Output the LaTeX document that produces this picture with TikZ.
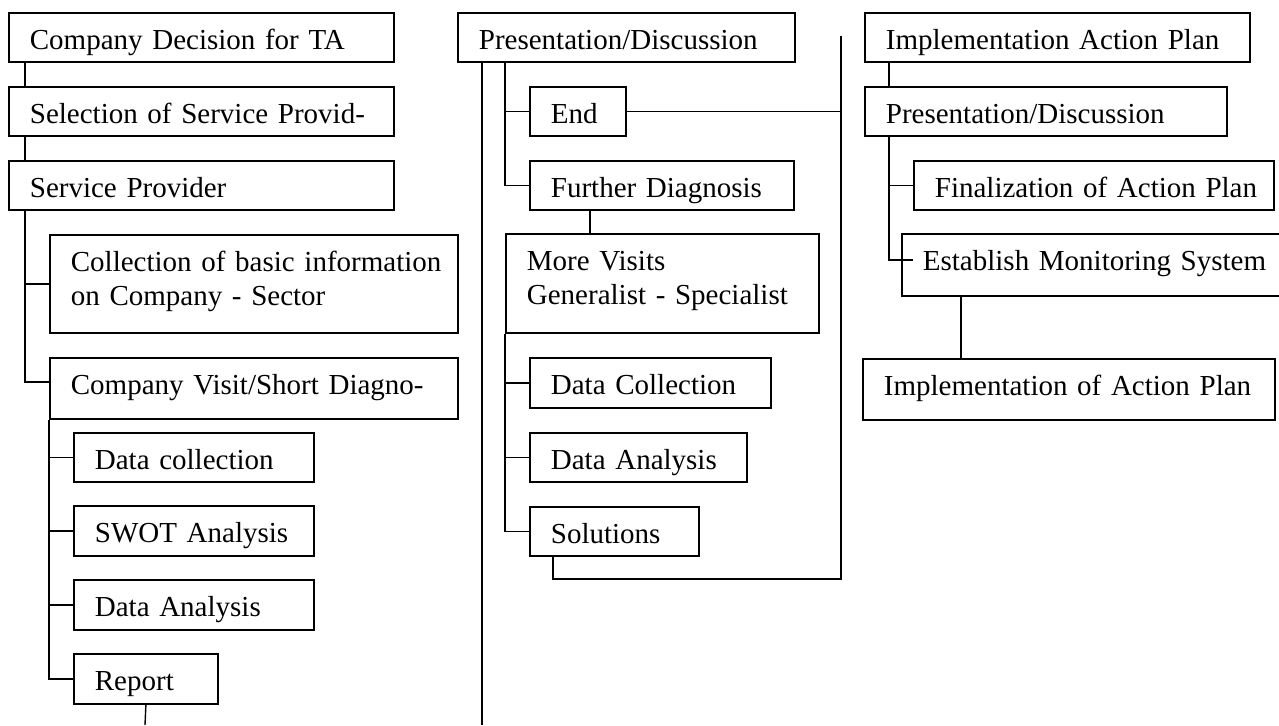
\documentclass[tikz,border=0pt]{standalone}
\usepackage{fontspec}
\setmainfont{Liberation Serif}

\tikzset{
  box/.style={draw, line width=0.9pt, anchor=north west, inner sep=0pt,
    align=left, text height=18.5pt, text depth=6pt,
    font=\fontsize{14.5pt}{17pt}\selectfont,
    execute at begin node={\leftskip=10.5pt}},
  link/.style={line width=0.7pt}
}

\begin{document}
\begin{tikzpicture}[x=0.5pt, y=-0.5pt]
    \useasboundingbox (0,0) rectangle (1279,725);
    % first column
    \node[box, text width=192.5pt] (cdec) at (8,12) {Company Decision for TA};
    \node[box, text width=192.5pt] (selsp) at (8,86) {Selection of Service Provid-};
    \node[box, text width=192.5pt] (sprov) at (8,160) {Service Provider};
    \node[box, text width=204pt, text depth=30.5pt] (basic) at (49,234) {Collection of basic information\\on Company - Sector};
    \node[box, text width=204pt, text depth=12pt] (visit) at (49,357) {Company Visit/Short Diagno-};
    \node[box, text width=120pt] (dcoll) at (73,432) {Data collection};
    \node[box, text width=120pt, text depth=6.5pt] (swot) at (73,505) {SWOT Analysis};
    \node[box, text width=120pt, text depth=6.5pt] (danal) at (73,579) {Data Analysis};
    \node[box, text width=72pt, text depth=6.5pt] (report) at (73,653) {Report};
    \coordinate (rpend) at (145,725);

    \draw[link] ([xshift=8.5pt]cdec.south west) -- ([xshift=8.5pt]selsp.north west);
    \draw[link] ([xshift=8.5pt]selsp.south west) -- ([xshift=8.5pt]sprov.north west);
    \draw[link] ([xshift=8.5pt]sprov.south west) |- (basic.west);
    \draw[link] ([xshift=8.5pt]sprov.south west) |- ([yshift=-12.5pt]visit.north west);
    \foreach \n in {dcoll,swot,danal,report}
      \draw[link] (visit.south west) |- (\n.west);
    \draw[link] (report.south) -- (rpend);

    % second column
    \node[box, text width=168.5pt] (pres) at (457,12) {Presentation/Discussion};
    \node[box, text width=48pt] (end) at (529,86) {End};
    \node[box, text width=132pt] (further) at (529,160) {Further Diagnosis};
    \node[box, text width=156.5pt, text depth=31pt] (more) at (505,233) {More Visits\\Generalist - Specialist};
    \node[box, text width=120.5pt, text depth=6.5pt] (dcollb) at (529,357) {Data Collection};
    \node[box, text width=108.5pt] (danalb) at (529,432) {Data Analysis};
    \node[box, text width=84.5pt] (sol) at (529,506) {Solutions};
    \coordinate (pend) at (482,725);
    \coordinate (ctop) at (841,36);
    \coordinate (cbot) at (841,579);
    \coordinate (fdown) at ([xshift=30.5pt]further.south west);

    \draw[link] ([xshift=12.5pt]pres.south west) -- (pend);
    \foreach \n in {end,further}
      \draw[link] ([xshift=24pt]pres.south west) |- (\n.west);
    \draw[link] (end.east) -- (end.east -| ctop);
    \draw[link] (fdown) -- (fdown |- more.north);
    \foreach \n in {dcollb,danalb,sol}
      \draw[link] (more.south west) |- (\n.west);
    \draw[link] ([xshift=12pt]sol.south west) |- (cbot) -- (ctop);

    % third column
    \node[box, text width=192.5pt] (impl) at (864,12) {Implementation Action Plan};
    \node[box, text width=181pt] (presb) at (864,86) {Presentation/Discussion};
    \node[box, text width=180pt] (final) at (913,160) {Finalization of Action Plan};
    \node[box, text width=200pt, text depth=12.5pt] (estab) at (901,233) {Establish Monitoring System};
    \node[box, text width=206pt, text depth=12pt] (implap) at (862,358) {Implementation of Action Plan};
    \coordinate (esdown) at ([xshift=30pt]estab.south west);

    \draw[link] ([xshift=12.5pt]impl.south west) -- ([xshift=12.5pt]presb.north west);
    \draw[link] ([xshift=12.5pt]presb.south west) |- (final.west);
    \draw[link] ([xshift=12.5pt]presb.south west) |- ([xshift=6pt,yshift=2.5pt]estab.west);
    \draw[link] (esdown) -- (esdown |- implap.north);
\end{tikzpicture}
\end{document}
